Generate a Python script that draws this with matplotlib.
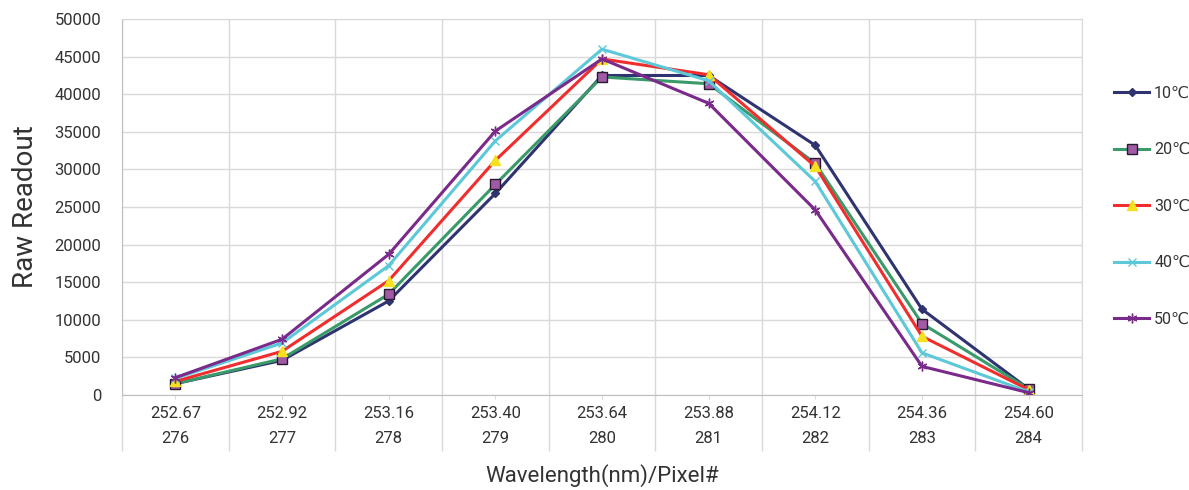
import matplotlib.pyplot as plt
from matplotlib.ticker import FixedLocator
import numpy as np

plt.rcParams['font.family'] = ['Roboto', 'DejaVu Sans']

# Data
# -----------------------
wavelength = ['252.67', '252.92', '253.16', '253.40', '253.64',
              '253.88', '254.12', '254.36', '254.60']
pixel = ['276', '277', '278', '279', '280', '281', '282', '283', '284']

t10 = [1500, 4600, 12500, 26800, 42500, 42500, 33200, 11400, 800]
t20 = [1500, 4800, 13400, 28000, 42300, 41400, 30800, 9500, 800]
t30 = [1800, 5800, 15200, 31200, 44700, 42600, 30400, 7800, 700]
t40 = [2200, 6900, 17200, 33800, 46000, 41800, 28400, 5600, 400]
t50 = [2300, 7400, 18700, 35100, 44700, 38800, 24600, 3800, 300]

labels = ['10\u2103', '20\u2103', '30\u2103', '40\u2103', '50\u2103']

# Plot
# ----
fig = plt.figure(figsize=(11.89, 4.9), dpi=100)
ax = fig.add_axes([0.1026, 0.194, 0.8074, 0.767])

x = np.arange(len(pixel))

ax.plot(x, t10, c='#2f3470', lw=2.2, marker='D', ms=4.5, mfc='#2f3470', mec='#2f3470', label=labels[0])
ax.plot(x, t20, c='#3a9a6a', lw=2.2, marker='s', ms=7, mfc='#a05aa6', mec='#2a1a30', mew=1.0, label=labels[1])
ax.plot(x, t30, c='#f02e2e', lw=2.2, marker='^', ms=7.5, mfc='#f5e11e', mec='#f5e11e', label=labels[2])
ax.plot(x, t40, c='#5cc8d8', lw=2.2, marker='x', ms=6, mew=1.0, label=labels[3])
ax.plot(x, t50, c='#7a2a8a', lw=2.2, marker=(6, 2, 0), ms=7, mew=1.0, label=labels[4])

ax.set_xlim(-0.5, len(pixel) - 0.5)
ax.set_ylim(0, 50000)
ax.set_yticks(np.arange(0, 50001, 5000))

# two-level category axis
ax.set_xticks(x)
ax.set_xticklabels([w + '\n' + p for w, p in zip(wavelength, pixel)],
                   linespacing=1.85, fontsize=12, color='#333333')
ax.xaxis.set_minor_locator(FixedLocator(np.arange(-0.5, len(pixel), 1.0)))
ax.tick_params(axis='x', which='major', length=3, color='#d9d9d9', pad=5)
ax.tick_params(axis='x', which='minor', length=40, color='#d9d9d9', width=1)
ax.tick_params(axis='y', length=0, labelsize=12, labelcolor='#333333', pad=15)

ax.grid(axis='y', color='#d9d9d9', lw=1)
ax.grid(axis='x', which='minor', color='#d9d9d9', lw=1)
ax.set_axisbelow(True)

for s in ['top', 'right']:
    ax.spines[s].set_color('#d9d9d9')
for s in ['left', 'bottom']:
    ax.spines[s].set_color('#bfbfbf')

ax.set_ylabel('Raw Readout', fontsize=20, color='#333333', labelpad=11)
ax.set_xlabel('Wavelength(nm)/Pixel#', fontsize=16, color='#333333', labelpad=6)

fig.legend(loc='center left', bbox_to_anchor=(0.925, 0.579), frameon=False,
           fontsize=11.5, labelspacing=2.6, handlelength=2.2, handletextpad=0.3,
           labelcolor='#333333')

plt.savefig('out.png', dpi=100)
